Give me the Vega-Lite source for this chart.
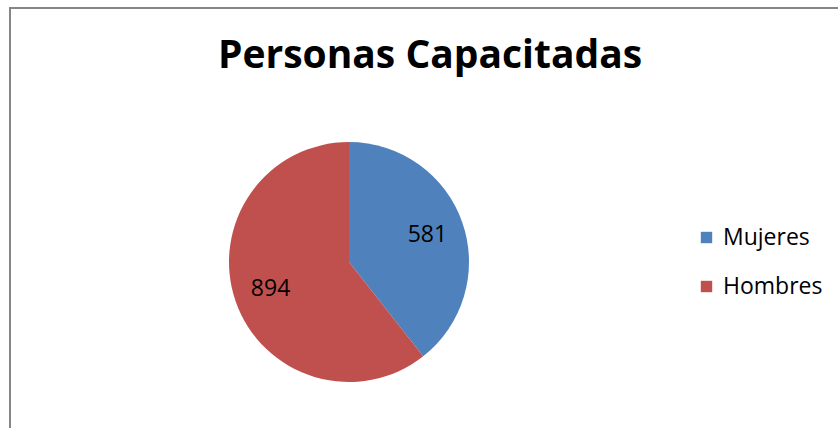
{
  "$schema": "https://vega.github.io/schema/vega-lite/v6.json",
  "autosize": "none",
  "width": 840,
  "height": 430,
  "padding": {"left": 10, "top": 8, "right": 0, "bottom": 0},
  "background": "white",
  "view": {"stroke": "#868686", "strokeWidth": 2, "fill": "white"},
  "config": {
    "font": "Open Sans"
  },
  "title": {
    "text": "Personas Capacitadas",
    "font": "Open Sans",
    "fontSize": 39,
    "fontWeight": "bold",
    "color": "#000000",
    "anchor": "middle",
    "orient": "top",
    "baseline": "alphabetic",
    "offset": 0,
    "dy": 99
  },
  "data": {
    "values": [
      {"genero": "Mujeres", "personas": 581},
      {"genero": "Hombres", "personas": 894}
    ]
  },
  "encoding": {
    "theta": {"field": "personas", "type": "quantitative", "stack": true},
    "order": {"field": "genero", "sort": "descending"},
    "color": {
      "field": "genero",
      "type": "nominal",
      "sort": ["Mujeres", "Hombres"],
      "scale": {"domain": ["Mujeres", "Hombres"], "range": ["#4F81BD", "#C0504D"]},
      "legend": {
        "title": null,
        "orient": "none",
        "legendX": 685,
        "legendY": 218,
        "symbolType": "square",
        "symbolSize": 130,
        "symbolStrokeWidth": 0,
        "symbolOpacity": 1,
        "labelFont": "Open Sans",
        "labelFontSize": 23,
        "labelColor": "#000000",
        "labelOffset": 5,
        "rowPadding": 25,
        "labelLimit": 300
      }
    }
  },
  "layer": [
    {
      "mark": {"type": "arc", "x": 339, "y": 254, "outerRadius": 120, "stroke": null}
    },
    {
      "mark": {"type": "text", "x": 339, "y": 254, "radius": 83, "fontSize": 23, "font": "Open Sans", "color": "#000000"},
      "encoding": {
        "text": {"field": "personas", "type": "quantitative"},
        "color": {"value": "#000000"}
      }
    }
  ]
}
